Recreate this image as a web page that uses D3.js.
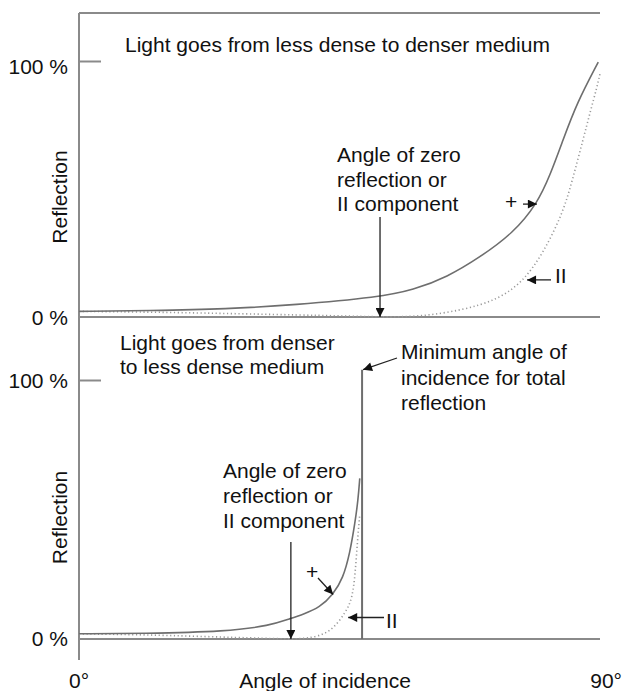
<!DOCTYPE html>
<html>
<head>
<meta charset="utf-8">
<script src="https://cdn.jsdelivr.net/npm/d3@7"></script>
<style>
  body { margin: 0; background: #fff; }
  svg text { font-family: "Liberation Sans", Arial, Helvetica, sans-serif; fill: #111; }
</style>
</head>
<body>
<svg id="chart" width="624" height="691"></svg>
<script>
// ── Data (angle in degrees, reflection in %) ─────────────────────────────────
// Top panel: light goes from less dense to denser medium
const topPerp = [[0, 2.2], [12, 2.5], [25.6, 3.1], [37, 4.7], [52, 7.8], [57.7, 10.5],
  [63.6, 15.6], [69.3, 23.4], [75, 32.8], [79.1, 44.1], [81.4, 55.5], [83.6, 69.1],
  [86, 83.6], [89.7, 99.6]];
const topPar = [[0, 2.2], [13.5, 1.9], [29.5, 1.2], [46.3, 0.4], [52, 0], [58.9, 0.1],
  [66.3, 2.7], [72.2, 6.6], [76.7, 13.7], [80.2, 25], [83.6, 40.6], [85.3, 54],
  [87.1, 69.5], [88.3, 80], [89.5, 90], [90, 95]];

// Bottom panel: light goes from denser to less dense medium
const botPerp = [[0, 2.0], [11, 2.1], [25.6, 2.9], [33, 5.2], [36.4, 7.8], [38.7, 9.5],
  [41.6, 12.2], [43.9, 17.2], [45.6, 23.4], [46.8, 33.2], [47.7, 45.2], [48.2, 53.6],
  [48.5, 62]];
const botPar = [[0, 2.0], [10, 1.7], [20.9, 1.0], [33, 0.2], [36.6, 0], [39.4, 0.2],
  [43.4, 2.1], [46.3, 11], [47.2, 16], [47.7, 24.6], [48.2, 40.8], [48.5, 47.8]];

const brewsterTop = 52;      // angle of zero reflection, top
const brewsterBot = 36.6;    // angle of zero reflection, bottom
const criticalAngle = 48.9;  // minimum angle for total reflection
const criticalTop = 104;     // top of the total-reflection line (%)

const xTickLabels = ["0°", "90°"];
const yTickValues = [0, 100];

// ── Scales ───────────────────────────────────────────────────────────────────
const svg = d3.select("#chart");
const x = d3.scaleLinear().domain([0, 90]).range([79, 600]);
const yTop = d3.scaleLinear().domain([0, 100]).range([317, 61]);
const yBot = d3.scaleLinear().domain([0, 100]).range([639, 380]);

const axisColor = "#8a8a8a";
const curveColor = "#6e6e6e";
const fontSize = 21;

// arrowhead marker
svg.append("defs").append("marker")
  .attr("id", "arrow").attr("viewBox", "0 0 10 10")
  .attr("refX", 10).attr("refY", 5)
  .attr("markerWidth", 11).attr("markerHeight", 9)
  .attr("markerUnits", "userSpaceOnUse")
  .attr("orient", "auto")
  .append("path").attr("d", "M0,0 L10,5 L0,10 Z").attr("fill", "#111");

// ── Frame ────────────────────────────────────────────────────────────────────
svg.append("line")
  .attr("x1", x(0)).attr("x2", x(0)).attr("y1", 13).attr("y2", 660)
  .attr("stroke", axisColor).attr("stroke-width", 2);
svg.append("line")
  .attr("x1", x(0)).attr("x2", x(90)).attr("y1", 13).attr("y2", 13)
  .attr("stroke", axisColor).attr("stroke-width", 2);

function panel(y, perp, par, labelDy) {
  const g = svg.append("g");

  // y axis: only the 100 % tick is drawn, 0 % is the baseline
  const axis = d3.axisLeft(y).tickValues(yTickValues)
    .tickFormat(d => d + " %").tickSize(-22).tickPadding(11);
  const ax = g.append("g").attr("transform", `translate(${x(0)},0)`).call(axis);
  ax.select(".domain").remove();
  ax.selectAll("line").attr("stroke", axisColor).attr("stroke-width", 2)
    .filter(d => d === 0).remove();
  ax.selectAll("text").attr("font-size", fontSize).attr("fill", "#111")
    .attr("font-family", '"Liberation Sans", Arial, sans-serif')
    .attr("dy", d => labelDy[d]);

  // baseline
  g.append("line")
    .attr("x1", x(0)).attr("x2", x(90)).attr("y1", y(0)).attr("y2", y(0))
    .attr("stroke", axisColor).attr("stroke-width", 2);

  const line = d3.line().x(d => x(d[0])).y(d => y(d[1])).curve(d3.curveBasis);

  g.append("path").datum(par).attr("d", line)
    .attr("fill", "none").attr("stroke", "#9a9a9a")
    .attr("stroke-width", 1.6).attr("stroke-dasharray", "1.2,2.6");
  g.append("path").datum(perp).attr("d", line)
    .attr("fill", "none").attr("stroke", curveColor).attr("stroke-width", 1.6);

  // y label
  g.append("text")
    .attr("transform", `translate(67,${(y(0) + y(100)) / 2 + 8}) rotate(-90)`)
    .attr("text-anchor", "middle").attr("font-size", fontSize)
    .text("Reflection");
  return g;
}

const gTop = panel(yTop, topPerp, topPar, { 0: "0.38em", 100: "0.58em" });
const gBot = panel(yBot, botPerp, botPar, { 0: "0.32em", 100: "0.34em" });

// total reflection line
gBot.append("line")
  .attr("x1", x(criticalAngle)).attr("x2", x(criticalAngle))
  .attr("y1", yBot(0)).attr("y2", yBot(criticalTop))
  .attr("stroke", curveColor).attr("stroke-width", 2);

// ── Text and annotations ────────────────────────────────────────────────────
function label(lines, x0, y0, step) {
  const t = svg.append("text").attr("font-size", fontSize);
  lines.forEach((s, i) => t.append("tspan").attr("x", x0).attr("y", y0 + i * step).text(s));
}
function arrow(x1, y1, x2, y2, w) {
  svg.append("line")
    .attr("x1", x1).attr("y1", y1).attr("x2", x2).attr("y2", y2)
    .attr("stroke", "#222").attr("stroke-width", w || 1.3)
    .attr("marker-end", "url(#arrow)");
}

label(["Light goes from less dense to denser medium"], 125, 52, 0);
label(["Angle of zero", "reflection or", "II component"], 337, 162, 24.5);
arrow(x(brewsterTop), 217, x(brewsterTop), yTop(0));
label(["+"], 505, 209, 0);
arrow(523, yTop(44.1), x(79.1), yTop(44.1));
label(["II"], 555, 283, 0);
arrow(551, yTop(14.5), x(77.4), yTop(14.5));

label(["Light goes from denser", "to less dense medium"], 120, 350, 23.5);
label(["Minimum angle of", "incidence for total", "reflection"], 401, 359, 25.5);
arrow(397, 358, x(criticalAngle) + 1, yBot(criticalTop));
label(["Angle of zero", "reflection or", "II component"], 223, 478, 25);
arrow(x(brewsterBot), 542, x(brewsterBot), yBot(0));
label(["+"], 306, 579, 0);
arrow(318, 578, x(43.9), yBot(17.2));
label(["II"], 386, 628, 0);
arrow(384, yBot(8.3), x(46.5), yBot(8.3));

// x labels
label([xTickLabels[0]], 69, 688, 0);
svg.append("text").attr("x", 325).attr("y", 688).attr("font-size", fontSize)
  .attr("text-anchor", "middle").text("Angle of incidence");
svg.append("text").attr("x", 622).attr("y", 688).attr("font-size", fontSize)
  .attr("text-anchor", "end").text(xTickLabels[1]);
</script>
</body>
</html>
